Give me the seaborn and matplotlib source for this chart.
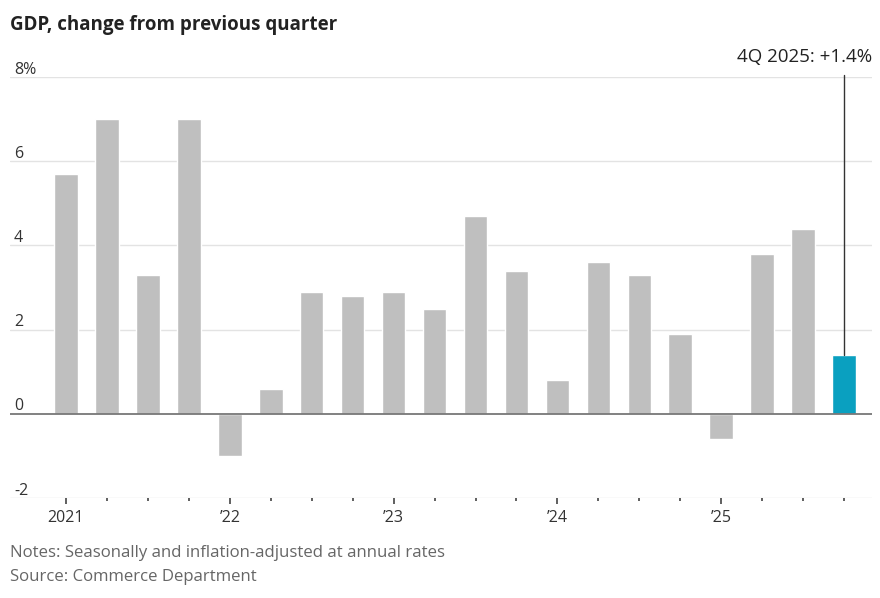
import matplotlib
matplotlib.use("Agg")
import matplotlib.pyplot as plt
import matplotlib.transforms as mtransforms
import seaborn as sns
import pandas as pd

quarters = [f"{q}Q {y}" for y in range(2021, 2026) for q in range(1, 5)]
values = [5.7, 7.0, 3.3, 7.0, -1.0, 0.6, 2.9, 2.8, 2.9, 2.5, 4.7, 3.4,
          0.8, 3.6, 3.3, 1.9, -0.6, 3.8, 4.4, 1.4]
year_labels = ["2021", "\u201922", "\u201923", "\u201924", "\u201925"]
y_ticks = [8, 6, 4, 2, 0, -2]
y_tick_labels = ["8%", "6", "4", "2", "0", "-2"]
highlight = ["past"] * 19 + ["latest"]

sns.set_theme(style="white")
plt.rcParams["font.family"] = ["Open Sans", "DejaVu Sans"]

df = pd.DataFrame({"quarter": quarters, "value": values, "group": highlight})

fig = plt.figure(figsize=(8.8, 5.98), dpi=100)
ax = fig.add_axes([10 / 880, 1 - 498 / 598, 861.7 / 880, (498 - 77) / 598])

sns.barplot(data=df, x="quarter", y="value", hue="group",
            palette={"past": "#bfbfbf", "latest": "#0aa0c0"},
            width=0.575, legend=False, ax=ax, saturation=1)

ax.set_xlim(-1.3675, 19.675)
ax.set_ylim(-2, 8)
for s in ax.spines.values():
    s.set_visible(False)

for t in y_ticks:
    if t == 0:
        ax.axhline(0, color="#777777", lw=1.3, zorder=3)
    else:
        ax.axhline(t, color="#e3e3e3", lw=1.0, zorder=0)

ax.set_yticks([])
ax.set_ylabel("")
ax.set_xlabel("")

trans = mtransforms.blended_transform_factory(ax.transAxes, ax.transData)
for t, lab in zip(y_ticks, y_tick_labels):
    ax.text(0.0046, t + 0.08, lab, transform=trans, ha="left", va="baseline",
            fontsize=11.5, color="#333333")

major_pos = [i for i in range(len(quarters)) if quarters[i].startswith("1Q")]
ax.set_xticks(major_pos)
ax.set_xticklabels(year_labels, fontsize=11.5, color="#333333")
ax.set_xticks([i for i in range(len(quarters)) if i not in major_pos], minor=True)
ax.tick_params(axis="x", which="major", length=4.5, width=1.2, color="#444444",
               pad=4.5, bottom=True, direction="out")
ax.tick_params(axis="x", which="minor", length=2.2, width=1.2, color="#444444",
               bottom=True, direction="out")

# annotation for latest quarter
last = len(values) - 1
ax.plot([last, last], [values[last], 8.05], color="#333333", lw=1.0,
        zorder=4, clip_on=False)
ax.text(19.675, 8.25, f"4Q 2025: +{values[last]:.1f}%", ha="right", va="bottom",
        fontsize=13.5, color="#222222", clip_on=False)

fig.text(10 / 880, 1 - 25 / 598, "GDP, change from previous quarter",
         fontsize=13.5, fontweight="bold", color="#222222", ha="left", va="center")
fig.text(10 / 880, 1 - 553 / 598, "Notes: Seasonally and inflation-adjusted at annual rates",
         fontsize=12.1, color="#666666", ha="left", va="center")
fig.text(10 / 880, 1 - 577 / 598, "Source: Commerce Department",
         fontsize=12.1, color="#666666", ha="left", va="center")

fig.savefig("out.png", dpi=100, facecolor="white")
